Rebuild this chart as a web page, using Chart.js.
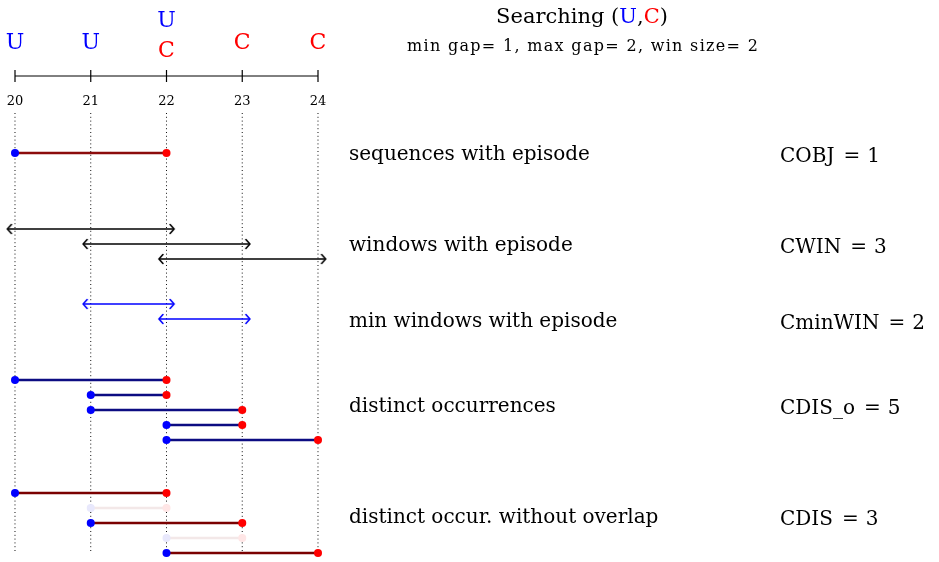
<!DOCTYPE html>
<html>
<head>
<meta charset="utf-8">
<script src="https://cdn.jsdelivr.net/npm/chart.js@4.4.1/dist/chart.umd.min.js"></script>
<style>
  html, body { margin: 0; padding: 0; background: #fff; }
  #wrap { width: 939px; height: 562px; }
</style>
</head>
<body>
<div id="wrap"><canvas id="episodeChart" width="939" height="562"></canvas></div>
<script>
// time axis and events
const timeTicks = [20, 21, 22, 23, 24];
const eventsU = [20, 21, 22];
const eventsC = [22, 23, 24];

// sequences with episode
const seqStart = [20];
const seqEnd = [22];
// windows with episode
const winStart = [20, 21, 22];
const winEnd = [22, 23, 24];
// min windows with episode
const minWinStart = [21, 22];
const minWinEnd = [22, 23];
// distinct occurrences
const occStart = [20, 21, 21, 22, 22];
const occEnd = [22, 22, 23, 23, 24];
// distinct occurrences kept when overlap is not allowed
const occKept = [true, false, true, false, true];

const rowLabels = ['sequences with episode', 'windows with episode', 'min windows with episode',
                   'distinct occurrences', 'distinct occur. without overlap'];
const countNames = ['COBJ', 'CWIN', 'CminWIN', 'CDIS_o', 'CDIS'];
const countValues = [1, 3, 2, 5, 3];

// layout (pixels)
const groupTop = [153, 229, 304, 380, 493];
const rowStep = 15;
const labelBase = [160, 251, 327, 412, 523];
const axisY = 76;
const arrowPad = 0.1;
const SERIF = '"DejaVu Serif", "Liberation Serif", serif';

const BLUE = 'rgb(0,0,255)';
const RED = 'rgb(255,0,0)';

// open arrow tips used as point styles
function chevron(dir, color) {
    const c = document.createElement('canvas');
    c.width = 14; c.height = 14;
    const g = c.getContext('2d');
    g.strokeStyle = color;
    g.lineWidth = 1.6;
    g.lineCap = 'round';
    g.lineJoin = 'round';
    g.beginPath();
    g.moveTo(7 - dir * 4, 2.5);
    g.lineTo(7, 7);
    g.lineTo(7 - dir * 4, 11.5);
    g.stroke();
    return c;
}

function segment(x0, x1, y, color, dotA, dotB) {
    return {
        data: [{x: x0, y: y}, {x: x1, y: y}],
        showLine: true,
        borderColor: color,
        borderWidth: 2.6,
        pointRadius: 4,
        pointBorderWidth: 0,
        pointBackgroundColor: [dotA, dotB],
        order: 1
    };
}

function arrow(x0, x1, y, color) {
    return {
        data: [{x: x0 - arrowPad, y: y}, {x: x1 + arrowPad, y: y}],
        showLine: true,
        borderColor: color,
        borderWidth: 1.7,
        pointRadius: 5,
        pointStyle: [chevron(-1, color), chevron(1, color)],
        order: 1
    };
}

const datasets = [];

// dotted guides
timeTicks.forEach(t => {
    datasets.push({
        data: [{x: t, y: 113}, {x: t, y: 551}],
        showLine: true,
        borderColor: '#111',
        borderWidth: 1,
        borderDash: [1, 2.8],
        pointRadius: 0,
        order: 5
    });
});

// top time axis
datasets.push({
    data: [{x: timeTicks[0], y: axisY}, {x: timeTicks[timeTicks.length - 1], y: axisY}],
    showLine: true,
    borderColor: '#000',
    borderWidth: 1,
    pointRadius: 0,
    order: 2
});
datasets.push({
    data: timeTicks.map(t => ({x: t, y: axisY})),
    showLine: false,
    pointStyle: 'line',
    rotation: 90,
    pointRadius: 6,
    borderColor: '#000',
    borderWidth: 1.2,
    order: 2
});

seqStart.forEach((s, i) => datasets.push(segment(s, seqEnd[i], groupTop[0] + i * rowStep, 'rgb(140,12,12)', BLUE, RED)));
winStart.forEach((s, i) => datasets.push(arrow(s, winEnd[i], groupTop[1] + i * rowStep, '#000')));
minWinStart.forEach((s, i) => datasets.push(arrow(s, minWinEnd[i], groupTop[2] + i * rowStep, BLUE)));
occStart.forEach((s, i) => datasets.push(segment(s, occEnd[i], groupTop[3] + i * rowStep, 'rgb(12,12,130)', BLUE, RED)));
occStart.forEach((s, i) => {
    const y = groupTop[4] + i * rowStep;
    if (occKept[i]) {
        datasets.push(segment(s, occEnd[i], y, 'rgb(122,0,0)', BLUE, RED));
    } else {
        datasets.push(segment(s, occEnd[i], y, 'rgb(243,232,232)', 'rgb(232,232,252)', 'rgb(255,230,230)'));
    }
});

const textPlugin = {
    id: 'textPlugin',
    afterDatasetsDraw(chart) {
        const ctx = chart.ctx;
        const xs = chart.scales.x;
        ctx.save();
        ctx.fillStyle = '#000';

        // tick numbers
        ctx.font = '13px ' + SERIF;
        ctx.textAlign = 'center';
        ctx.textBaseline = 'alphabetic';
        timeTicks.forEach(t => ctx.fillText(String(t), xs.getPixelForValue(t), 105));

        // event letters
        ctx.font = '22px ' + SERIF;
        timeTicks.forEach(t => {
            const hasU = eventsU.includes(t);
            const hasC = eventsC.includes(t);
            const px = xs.getPixelForValue(t);
            if (hasU && hasC) {
                ctx.fillStyle = BLUE; ctx.fillText('U', px, 27);
                ctx.fillStyle = RED; ctx.fillText('C', px, 57);
            } else if (hasU) {
                ctx.fillStyle = BLUE; ctx.fillText('U', px, 49);
            } else if (hasC) {
                ctx.fillStyle = RED; ctx.fillText('C', px, 49);
            }
        });

        // title
        ctx.font = '21px ' + SERIF;
        ctx.textAlign = 'left';
        const parts = [['Searching (', '#000'], ['U', BLUE], [',', '#000'], ['C', RED], [')', '#000']];
        const total = parts.reduce((w, p) => w + ctx.measureText(p[0]).width, 0);
        let tx = 582 - total / 2;
        parts.forEach(p => {
            ctx.fillStyle = p[1];
            ctx.fillText(p[0], tx, 23);
            tx += ctx.measureText(p[0]).width;
        });
        ctx.fillStyle = '#000';
        ctx.font = '16px ' + SERIF;
        const sub = 'min gap= 1, max gap= 2, win size= 2';
        const subW = ctx.measureText(sub).width;
        ctx.letterSpacing = ((351 - subW) / (sub.length - 1)).toFixed(2) + 'px';
        ctx.fillText(sub, 407, 51);
        ctx.letterSpacing = '0px';

        // row descriptions and counts
        ctx.font = '20px ' + SERIF;
        rowLabels.forEach((l, i) => {
            const y = labelBase[i];
            ctx.fillText(l, 349, y);
            let cx = 780;
            ctx.fillText(countNames[i], cx, y + 2);
            cx += ctx.measureText(countNames[i]).width + 9;
            ctx.fillText('=', cx, y + 2);
            cx += ctx.measureText('=').width + 7;
            ctx.fillText(String(countValues[i]), cx, y + 2);
        });
        ctx.restore();
    }
};

new Chart(document.getElementById('episodeChart'), {
    type: 'scatter',
    data: { datasets: datasets },
    options: {
        responsive: false,
        animation: false,
        events: [],
        layout: { padding: 0, autoPadding: false },
        plugins: { legend: { display: false }, tooltip: { enabled: false } },
        scales: {
            x: { type: 'linear', min: 19.802, max: 32.198, display: false },
            y: { type: 'linear', min: 0, max: 562, reverse: true, display: false }
        }
    },
    plugins: [textPlugin]
});
</script>
</body>
</html>
